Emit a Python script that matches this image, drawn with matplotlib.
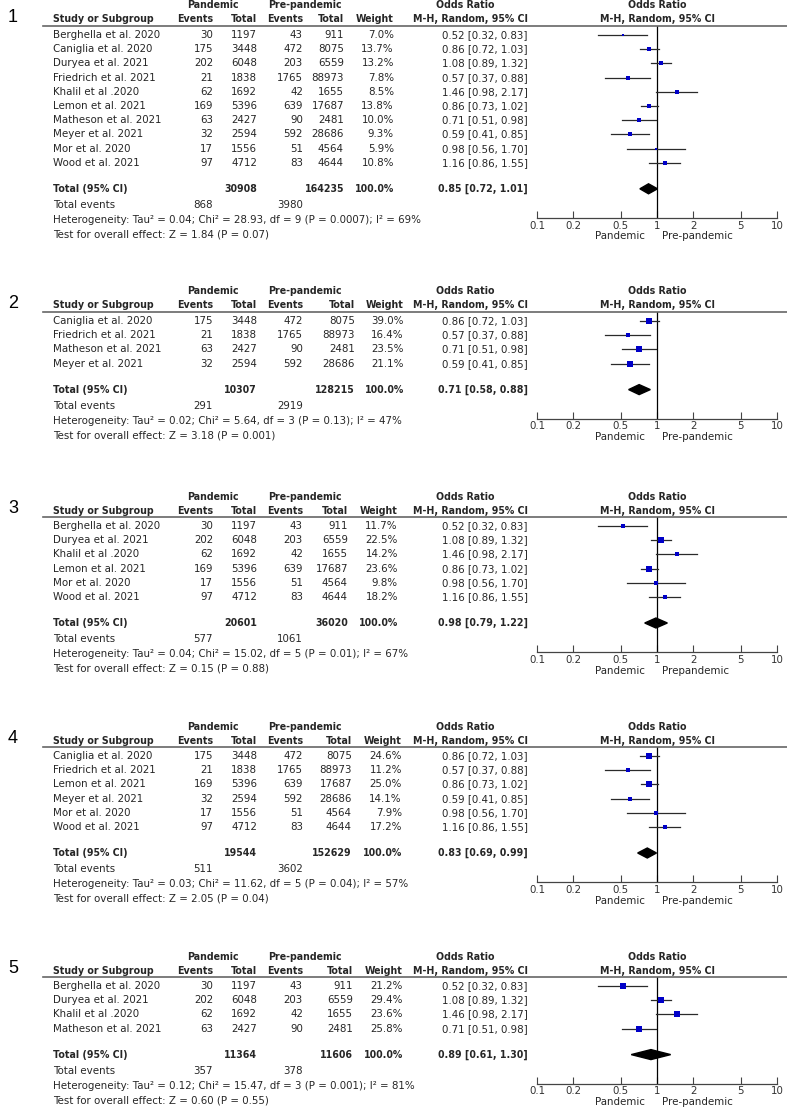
import matplotlib
matplotlib.use("Agg")
import matplotlib.pyplot as plt
from matplotlib.lines import Line2D
from matplotlib.patches import Polygon
import numpy as np

# studies (all of them, panels use subsets)
study_names = ["Berghella et al. 2020", "Caniglia et al. 2020", "Duryea et al. 2021",
               "Friedrich et al. 2021", "Khalil et al .2020", "Lemon et al. 2021",
               "Matheson et al. 2021", "Meyer et al. 2021", "Mor et al. 2020", "Wood et al. 2021"]
pand_events = [30, 175, 202, 21, 62, 169, 63, 32, 17, 97]
pand_total = [1197, 3448, 6048, 1838, 1692, 5396, 2427, 2594, 1556, 4712]
pre_events = [43, 472, 203, 1765, 42, 639, 90, 592, 51, 83]
pre_total = [911, 8075, 6559, 88973, 1655, 17687, 2481, 28686, 4564, 4644]
odds = [0.52, 0.86, 1.08, 0.57, 1.46, 0.86, 0.71, 0.59, 0.98, 1.16]
ci_low = [0.32, 0.72, 0.89, 0.37, 0.98, 0.73, 0.51, 0.41, 0.56, 0.86]
ci_high = [0.83, 1.03, 1.32, 0.88, 2.17, 1.02, 0.98, 0.85, 1.70, 1.55]

# per panel
panel_studies = [[0, 1, 2, 3, 4, 5, 6, 7, 8, 9], [1, 3, 6, 7], [0, 2, 4, 5, 8, 9],
                 [1, 3, 5, 7, 8, 9], [0, 2, 4, 6]]
panel_weights = [[7.0, 13.7, 13.2, 7.8, 8.5, 13.8, 10.0, 9.3, 5.9, 10.8],
                 [39.0, 16.4, 23.5, 21.1],
                 [11.7, 22.5, 14.2, 23.6, 9.8, 18.2],
                 [24.6, 11.2, 25.0, 14.1, 7.9, 17.2],
                 [21.2, 29.4, 23.6, 25.8]]
total_pand = [30908, 10307, 20601, 19544, 11364]
total_pre = [164235, 128215, 36020, 152629, 11606]
events_pand = [868, 291, 577, 511, 357]
events_pre = [3980, 2919, 1061, 3602, 378]
pooled_or = [0.85, 0.71, 0.98, 0.83, 0.89]
pooled_low = [0.72, 0.58, 0.79, 0.69, 0.61]
pooled_high = [1.01, 0.88, 1.22, 0.99, 1.30]
tau2 = ["0.04", "0.02", "0.04", "0.03", "0.12"]
chi2 = ["28.93", "5.64", "15.02", "11.62", "15.47"]
dfs = [9, 3, 5, 5, 3]
chi_p = ["0.0007", "0.13", "0.01", "0.04", "0.001"]
i2 = [69, 47, 67, 57, 81]
z_val = ["1.84", "3.18", "0.15", "2.05", "0.60"]
z_p = ["0.07", "0.001", "0.88", "0.04", "0.55"]
right_labels = ["Pre-pandemic", "Pre-pandemic", "Prepandemic", "Pre-pandemic", "Pre-pandemic"]
x_ticks = [0.1, 0.2, 0.5, 1, 2, 5, 10]

W, H = 787, 1111
FONT = ["DejaVu Sans"]
TXT = "#262626"

fig = plt.figure(figsize=(W / 100, H / 100), dpi=100)
fig.patch.set_facecolor("white")

# pick font sizes so texts have the reference widths
r = fig.canvas.get_renderer()
t = fig.text(0, 0, "Berghella et al. 2020", fontsize=10, family=FONT)
fs = 10 * 107 / t.get_window_extent(r).width
t.remove()
t = fig.text(0, 0, "M-H, Random, 95% CI", fontsize=10, family=FONT, fontweight="bold")
fsb = 10 * 116 / t.get_window_extent(r).width
t.remove()


def put(x, y, s, ha="left", bold=False, size=None, family=None, color=TXT):
    fig.text(x / W, 1 - y / H, s, ha=ha, va="center",
             fontsize=size or (fsb if bold else fs),
             fontweight="bold" if bold else "normal", family=family or FONT, color=color)


line_ys = [26, 312, 517, 747, 977]
pre_total_x = [344, 355, 348, 352, 353]
weight_x = [394, 404, 398, 402, 403]
x_ev1, x_tot1, x_ev2, x_ci = 213, 257, 303, 528
fx0, fx1 = 537, 777
step = 14.2

for p in range(5):
    ly = line_ys[p]
    hy = ly - 6.5
    gy = hy - 14
    idx = panel_studies[p]
    rows = [ly + 9 + i * step for i in range(len(idx))]
    ty = rows[-1] + 26
    ey = ty + 16
    hety = ey + 15
    zy = hety + 14.5
    axy = hety - 2

    put(13, hy - 2, str(p + 1), ha="center", size=13, family=["Liberation Sans"], color="black")
    put(213, gy, "Pandemic", ha="center", bold=True)
    put(268, gy, "Pre-pandemic", ha="left", bold=True)
    put(465, gy, "Odds Ratio", ha="center", bold=True)
    put(657, gy, "Odds Ratio", ha="center", bold=True)
    put(53, hy, "Study or Subgroup", bold=True)
    put(x_ev1, hy, "Events", ha="right", bold=True)
    put(x_tot1, hy, "Total", ha="right", bold=True)
    put(x_ev2, hy, "Events", ha="right", bold=True)
    put(pre_total_x[p], hy, "Total", ha="right", bold=True)
    put(weight_x[p], hy, "Weight", ha="right", bold=True)
    put(x_ci, hy, "M-H, Random, 95% CI", ha="right", bold=True)
    put(657, hy, "M-H, Random, 95% CI", ha="center", bold=True)
    fig.add_artist(Line2D([43 / W, 1], [1 - ly / H, 1 - ly / H], color="#666666", lw=1.2))

    for i, s in enumerate(idx):
        y = rows[i]
        put(53, y, study_names[s])
        put(x_ev1, y, str(pand_events[s]), ha="right")
        put(x_tot1, y, str(pand_total[s]), ha="right")
        put(x_ev2, y, str(pre_events[s]), ha="right")
        put(pre_total_x[p], y, str(pre_total[s]), ha="right")
        put(weight_x[p], y, f"{panel_weights[p][i]:.1f}%", ha="right")
        put(x_ci, y, f"{odds[s]:.2f} [{ci_low[s]:.2f}, {ci_high[s]:.2f}]", ha="right")

    put(53, ty, "Total (95% CI)", bold=True)
    put(x_tot1, ty, str(total_pand[p]), ha="right", bold=True)
    put(pre_total_x[p], ty, str(total_pre[p]), ha="right", bold=True)
    put(weight_x[p], ty, "100.0%", ha="right", bold=True)
    put(x_ci, ty, f"{pooled_or[p]:.2f} [{pooled_low[p]:.2f}, {pooled_high[p]:.2f}]", ha="right", bold=True)
    put(53, ey, "Total events")
    put(x_ev1, ey, str(events_pand[p]), ha="right")
    put(x_ev2, ey, str(events_pre[p]), ha="right")
    put(53, hety, f"Heterogeneity: Tau\u00b2 = {tau2[p]}; Chi\u00b2 = {chi2[p]}, df = {dfs[p]} "
                  f"(P = {chi_p[p]}); I\u00b2 = {i2[p]}%")
    put(53, zy, f"Test for overall effect: Z = {z_val[p]} (P = {z_p[p]})")

    # forest plot, y in pixel units of the figure
    ax = fig.add_axes([fx0 / W, 1 - axy / H, (fx1 - fx0) / W, (axy - ly) / H])
    ax.set_xscale("log")
    ax.set_xlim(0.1, 10)
    ax.set_ylim(axy, ly)
    ax.patch.set_alpha(0)
    for sp in ["top", "left", "right"]:
        ax.spines[sp].set_visible(False)
    ax.spines["bottom"].set_color("#444444")
    ax.spines["bottom"].set_linewidth(0.9)
    ax.set_yticks([])
    ax.set_xticks(x_ticks)
    ax.set_xticklabels([str(v) for v in x_ticks])
    ax.minorticks_off()
    ax.tick_params(axis="x", direction="in", length=5, width=0.8, color="#444444",
                   pad=2, labelsize=fs, labelcolor="#333333")
    for lab in ax.get_xticklabels():
        lab.set_family(FONT)
    ax.axvline(1, color="black", lw=0.9)

    for i, s in enumerate(idx):
        ax.plot([ci_low[s], ci_high[s]], [rows[i], rows[i]], color="#2a2a2a", lw=0.9)
        side = 1.1 * np.sqrt(panel_weights[p][i])
        ax.plot(odds[s], rows[i], marker="s", ms=side * 0.72, color="#0000c8", mew=0)
    dia = Polygon([(pooled_low[p], ty), (pooled_or[p], ty - 5), (pooled_high[p], ty),
                   (pooled_or[p], ty + 5)], closed=True, color="black")
    ax.add_patch(dia)

    put(645, zy + 2, "Pandemic", ha="right")
    put(662, zy + 2, right_labels[p], ha="left")

fig.savefig("out.png", dpi=100)
